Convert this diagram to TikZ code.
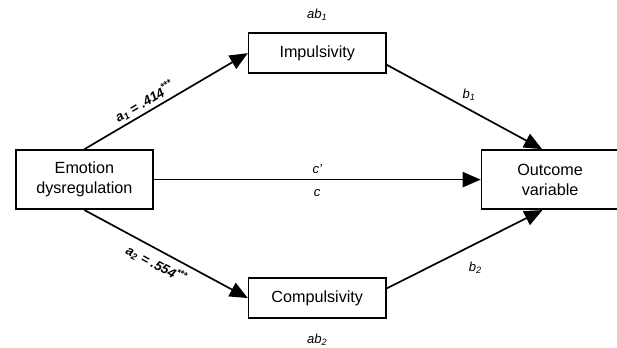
\documentclass[tikz,border=0pt]{standalone}
\usepackage{fontspec}
\setmainfont{Liberation Sans}
\usetikzlibrary{arrows.meta,calc,positioning}

\begin{document}
\begin{tikzpicture}[
  node distance=2.5cm,
  varbox/.style={rectangle,draw,line width=1.2pt,minimum width=3.43cm,inner sep=0pt,align=center,font=\fontsize{11.5}{14}\selectfont},
  tall/.style={minimum height=1.48cm},
  flat/.style={minimum height=1cm},
  link/.style={-{Triangle[length=0.45cm,width=0.38cm]},line width=1.2pt},
  coef/.style={inner sep=0pt,font=\fontsize{9.3}{11}\selectfont\itshape},
  est/.style={inner sep=0pt,sloped,font=\fontsize{9.5}{11}\selectfont\bfseries\itshape}
]
  \useasboundingbox (0,0) rectangle (15.425,-8.675);
  \node[varbox,tall] (emo) at (2.11,-4.49) {Emotion\\dysregulation};
  \node[varbox,tall,right=8.17cm of emo] (out) {Outcome\\variable};
  \node[varbox,flat,above=2.64cm of $(emo)!0.5!(out)$] (imp) {Impulsivity};
  \node[varbox,flat,below=2.44cm of $(emo)!0.5!(out)$] (comp) {Compulsivity};
  \node[coef,above=0.3cm of imp] (ab1) {ab\textsubscript{1}};
  \node[coef,below=0.38cm of comp] (ab2) {ab\textsubscript{2}};

  % a paths
  \draw[link] (emo.north) -- node[est,pos=0.4,above=0.06cm] (a1) {a\textsubscript{1} = .414\textsuperscript{***}} (imp.west);
  \draw[link] (emo.south) -- node[est,pos=0.48,below=0.15cm] (a2) {a\textsubscript{2} = .554\textsuperscript{***}} (comp.west);
  % b paths
  \draw[link] ([yshift=-0.29cm]imp.east) -- node[coef,pos=0.53,above=0.2cm] (b1) {b\textsubscript{1}} ([xshift=-0.2cm]out.north);
  \draw[link] ([yshift=0.24cm]comp.east) -- node[coef,pos=0.57,below=0.43cm] (b2) {b\textsubscript{2}} ([xshift=-0.19cm]out.south);
  % direct path
  \draw[link] (emo) -- node[coef,above=0.13cm] (cp) {c'} node[coef,below=0.22cm] (c) {c} (out);
\end{tikzpicture}
\end{document}
